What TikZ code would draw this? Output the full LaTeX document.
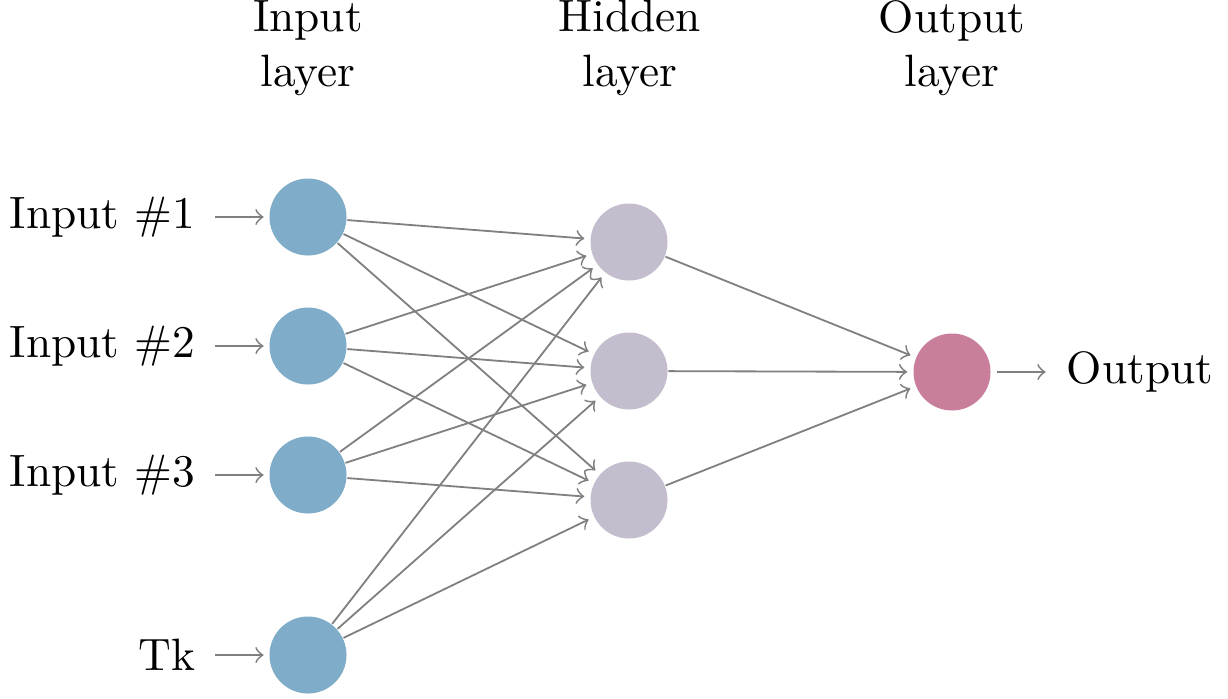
\documentclass[tikz,border=0pt]{standalone}
\usetikzlibrary{arrows}
\definecolor{inblue}{HTML}{7FACC8}
\definecolor{hidgray}{HTML}{C3BDCD}
\definecolor{outpink}{HTML}{C97F9C}
\begin{document}
\begin{tikzpicture}[x=0.0077519cm, y=-0.0077519cm,
  neuron/.style={circle, minimum size=0.597cm, inner sep=0pt},
  inneuron/.style={neuron, fill=inblue},
  hidneuron/.style={neuron, fill=hidgray},
  outneuron/.style={neuron, fill=outpink},
  conn/.style={draw=black!50, line width=0.4pt, ->, shorten >=1.2pt},
  pinarrow/.style={draw=black!50, line width=0.4pt, ->},
  txt/.style={inner sep=0pt, font=\normalsize},
  hdr/.style={align=center, inner sep=0pt}]
\useasboundingbox (0,0) rectangle (1228,698);
% headers
\node[hdr] (h1) at (308,48) {Input\\layer};
\node[hdr] (h2) at (630,48) {Hidden\\layer};
\node[hdr] (h3) at (952,48) {Output\\layer};
% input neurons
\node[inneuron] (i1) at (308,217) {};
\node[inneuron] (i2) at (308,346) {};
\node[inneuron] (i3) at (308,475) {};
\node[inneuron] (i4) at (308,655) {};
% hidden neurons
\node[hidneuron] (n1) at (629,242) {};
\node[hidneuron] (n2) at (629,371) {};
\node[hidneuron] (n3) at (629,500) {};
% output neuron
\node[outneuron] (o) at (952,372) {};
% input labels
\node[txt, anchor=east] (t1) at (196,217) {Input \#1};
\node[txt, anchor=east] (t2) at (196,346) {Input \#2};
\node[txt, anchor=east] (t3) at (196,475) {Input \#3};
\node[txt, anchor=east] (t4) at (196,655) {Tk};
\node[txt, anchor=west] (to) at (1066,372) {Output};
% pin arrows
\foreach \k in {1,2,3,4}
  \draw[pinarrow, shorten <=4.2pt, shorten >=1.1pt] (t\k) -- (i\k);
\draw[pinarrow, shorten <=1.2pt, shorten >=4.5pt] (o) -- (to);
% connections
\foreach \s in {1,2,3,4}
  \foreach \d in {1,2,3}
    \draw[conn] (i\s) -- (n\d);
\foreach \d in {1,2,3}
  \draw[conn] (n\d) -- (o);
\end{tikzpicture}
\end{document}
